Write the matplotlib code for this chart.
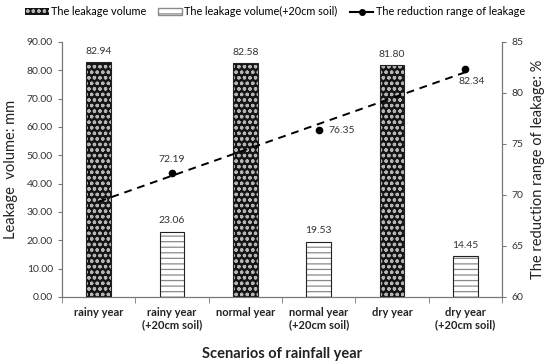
import matplotlib.pyplot as plt
import numpy as np
from matplotlib.patches import Patch
from matplotlib.lines import Line2D

plt.rcParams['font.family'] = ['Lato', 'DejaVu Sans']
plt.rcParams['hatch.linewidth'] = 0.9

categories = ["rainy year", "rainy year\n(+20cm soil)", "normal year",
              "normal year\n(+20cm soil)", "dry year", "dry year\n(+20cm soil)"]
leak_pos = [0, 2, 4]
leak = [82.94, 82.58, 81.80]
soil_pos = [1, 3, 5]
leak_soil = [23.06, 19.53, 14.45]
reduction = [72.19, 76.35, 82.34]

fig = plt.figure(figsize=(5.5, 3.62), dpi=100)
ax = fig.add_axes([0.1127, 0.1796, 0.80, 0.7044])
ax2 = ax.twinx()

w = 0.34
dark_face, dark_hatch = '#151515', '#b5b5b5'
light_hatch = '#8a8a8a'
# patterned bars (fill + hatch, then outline)
ax.bar(leak_pos, leak, w, color=dark_face, edgecolor=dark_hatch, hatch='ooo', linewidth=0, zorder=2)
ax.bar(leak_pos, leak, w, fill=False, edgecolor='#222222', linewidth=0.8, zorder=3)
ax.bar(soil_pos, leak_soil, w, color='white', edgecolor=light_hatch, hatch='---', linewidth=0, zorder=2)
ax.bar(soil_pos, leak_soil, w, fill=False, edgecolor='#222222', linewidth=0.8, zorder=3)

for x, v in zip(leak_pos + soil_pos, leak + leak_soil):
    ax.text(x, v + 2.2, f"{v:.2f}", ha='center', va='bottom', fontsize=7.5, color='#333333')

ax.set_xlim(-0.5, 5.5)
ax.set_ylim(0, 90)
ax.set_yticks(np.arange(0, 91, 10))
ax.set_yticklabels([f"{t:.2f}" for t in np.arange(0, 91, 10)], fontsize=7.5, color='#333333')
ax.set_xticks(range(6))
ax.set_xticklabels(categories, fontsize=8, fontweight='bold', color='#222222')
ax.set_xticks(np.arange(-0.5, 6, 1), minor=True)
ax.tick_params(axis='x', which='major', length=0, pad=7)
ax.tick_params(axis='x', which='minor', length=4, color='#777777')
ax.tick_params(axis='y', length=3, color='#777777')
ax.set_ylabel("Leakage  volume: mm", fontsize=10.5, color='#222222', labelpad=6)
ax.set_xlabel("Scenarios of rainfall year", fontsize=10.5, fontweight='bold', color='#222222', labelpad=12)

ax.spines['top'].set_visible(False)
ax2.spines['top'].set_visible(False)
for a in (ax, ax2):
    for s in ['left', 'right', 'bottom']:
        a.spines[s].set_color('#777777')

# reduction range with linear trendline
ax2.plot(soil_pos, reduction, 'o', color='black', markersize=4.5, zorder=5)
coef = np.polyfit(soil_pos, reduction, 1)
tx = np.array([0, 5])
ax2.plot(tx, np.polyval(coef, tx), '--', color='black', linewidth=1.4, dashes=(4, 3), zorder=4)
ax2.annotate(f"{reduction[0]:.2f}", (soil_pos[0], reduction[0]), xytext=(0, 6),
             textcoords='offset points', ha='center', va='bottom', fontsize=7.5, color='#333333')
ax2.annotate(f"{reduction[1]:.2f}", (soil_pos[1], reduction[1]), xytext=(7, 0),
             textcoords='offset points', ha='left', va='center', fontsize=7.5, color='#333333')
ax2.annotate(f"{reduction[2]:.2f}", (soil_pos[2], reduction[2]), xytext=(-5, -6),
             textcoords='offset points', ha='left', va='top', fontsize=7.5, color='#333333')
ax2.set_ylim(60, 85)
ax2.set_yticks(range(60, 86, 5))
ax2.tick_params(axis='y', labelsize=7.5, labelcolor='#333333', length=3, color='#777777')
ax2.set_ylabel("The reduction range of leakage: %", fontsize=10.5, color='#222222', labelpad=6)

# legend
handles = [Patch(facecolor=dark_face, edgecolor=dark_hatch, hatch='ooo', linewidth=0),
           Patch(facecolor='white', edgecolor=light_hatch, hatch='---'),
           Line2D([0], [0], color='black', marker='o', markersize=4, linewidth=1.5)]
labels = ["The leakage volume", "The leakage volume(+20cm soil)", "The reduction range of leakage"]
fig.legend(handles, labels, loc='upper center', bbox_to_anchor=(0.5, 1.01), ncol=3, frameon=False,
           fontsize=7.8, handlelength=2.2, handleheight=0.6, handletextpad=0.2, columnspacing=1.1)

fig.savefig("out.png", dpi=100)
